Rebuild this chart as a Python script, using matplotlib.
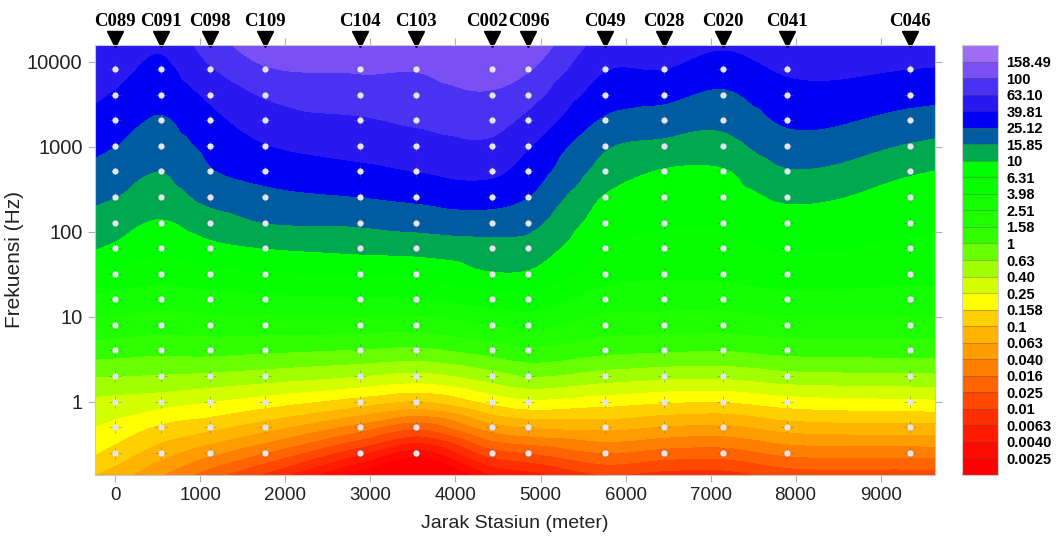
import numpy as np
import matplotlib.pyplot as plt
import matplotlib.tri as mtri
from matplotlib.transforms import blended_transform_factory, offset_copy

# --- DATA ---
stations = ['C089', 'C091', 'C098', 'C109', 'C104', 'C103', 'C002',
            'C096', 'C049', 'C028', 'C020', 'C041', 'C046']
jarak = [0, 539, 1112, 1756, 2880, 3536, 4426, 4848, 5761, 6452, 7143, 7904, 9344]
frekuensi = [8192, 4096, 2048, 1024, 512, 256, 128, 64, 32, 16, 8, 4, 2, 1, 0.5, 0.25]

# log10 of the value at each station, from 8192 Hz down to 0.25 Hz
C089 = [1.67, 1.58, 1.49, 1.40, 1.30, 1.20, 1.07, 0.96, 0.74, 0.53, 0.32, 0.08, -0.20, -0.47, -0.67, -0.88]
C091 = [1.55, 1.47, 1.38, 1.31, 1.20, 1.11, 0.98, 0.85, 0.68, 0.48, 0.28, 0.05, -0.22, -0.52, -0.84, -1.12]
C098 = [1.78, 1.64, 1.54, 1.45, 1.38, 1.26, 1.10, 0.94, 0.74, 0.52, 0.30, 0.06, -0.25, -0.60, -0.95, -1.35]
C109 = [1.98, 1.82, 1.70, 1.59, 1.47, 1.34, 1.20, 1.00, 0.78, 0.55, 0.30, 0.03, -0.30, -0.70, -1.12, -1.60]
C104 = [2.02, 1.92, 1.78, 1.68, 1.55, 1.40, 1.23, 1.05, 0.82, 0.58, 0.30, -0.02, -0.40, -0.90, -1.50, -2.15]
C103 = [2.01, 1.93, 1.83, 1.72, 1.60, 1.44, 1.27, 1.07, 0.84, 0.58, 0.28, -0.05, -0.47, -1.02, -1.75, -2.50]
C002 = [2.08, 1.98, 1.87, 1.76, 1.64, 1.48, 1.30, 1.12, 0.98, 0.70, 0.40, 0.08, -0.30, -0.75, -1.30, -1.90]
C096 = [2.02, 1.88, 1.75, 1.62, 1.51, 1.40, 1.26, 1.12, 0.97, 0.72, 0.45, 0.15, -0.20, -0.65, -1.20, -1.80]
C049 = [1.61, 1.50, 1.37, 1.22, 1.12, 0.98, 0.90, 0.80, 0.68, 0.50, 0.30, 0.05, -0.30, -0.72, -1.15, -1.60]
C028 = [1.60, 1.45, 1.31, 1.15, 0.98, 0.90, 0.82, 0.74, 0.63, 0.48, 0.28, 0.02, -0.35, -0.78, -1.22, -1.68]
C020 = [1.50, 1.37, 1.25, 1.13, 0.98, 0.90, 0.82, 0.74, 0.64, 0.48, 0.28, 0.00, -0.36, -0.80, -1.25, -1.70]
C041 = [1.63, 1.53, 1.43, 1.32, 1.18, 1.03, 0.92, 0.82, 0.70, 0.53, 0.32, 0.06, -0.28, -0.70, -1.12, -1.55]
C046 = [1.60, 1.47, 1.33, 1.18, 1.02, 0.92, 0.84, 0.76, 0.66, 0.52, 0.32, 0.08, -0.25, -0.65, -1.08, -1.52]
profiles = [C089, C091, C098, C109, C104, C103, C002, C096, C049, C028, C020, C041, C046]

# contour levels (log10) and the colour bar labels, low -> high
levels = [-2.6, -2.4, -2.2, -2.0, -1.8, -1.6, -1.4, -1.2, -1.0, -0.8, -0.6, -0.4,
          -0.2, 0.0, 0.2, 0.4, 0.6, 0.8, 1.0, 1.2, 1.4, 1.6, 1.8, 2.0, 2.2]
level_labels = ['0.0025', '0.0040', '0.0063', '0.01', '0.025', '0.016', '0.040',
                '0.063', '0.1', '0.158', '0.25', '0.40', '0.63', '1', '1.58', '2.51',
                '3.98', '6.31', '10', '15.85', '25.12', '39.81', '63.10', '100', '158.49']
band_colors = ['#ff0000', '#ff0a00', '#ff1a00', '#ff2e00', '#ff4800', '#ff6400',
               '#ff8000', '#ff9c00', '#ffb400', '#ffd000', '#ffff00', '#d4ff00',
               '#a0ff00', '#68ff00', '#30ff00', '#20ff00', '#14ff00', '#08ff00',
               '#00ff00', '#00a850', '#005ca0', '#0000f5', '#2a18f0', '#4a32f2',
               '#7a50f5', '#a06cf5']

# --- SURFACE ---
x = np.array(jarak, dtype=float)
lf = np.log10(frekuensi)
z = np.array(profiles)  # (station, freq)
nx, ny = z.shape
PX, PY = np.meshgrid(x, lf, indexing='ij')

# triangles cell by cell, coordinates scaled to about equal display units
tris = []
for i in range(nx - 1):
    for j in range(ny - 1):
        a = i * ny + j
        b = (i + 1) * ny + j
        tris.append([a, b, a + 1])
        tris.append([b, b + 1, a + 1])
SX, SY = 85 / 1000, 85
tri = mtri.Triangulation(PX.ravel() * SX, PY.ravel() * SY, np.array(tris))
interp = mtri.CubicTriInterpolator(tri, z.ravel(), kind='geom')

xlim = (-240, 9640)
ylim = (0.137, 15700)
gx = np.linspace(xlim[0], xlim[1], 500)
glf = np.linspace(np.log10(ylim[0]), np.log10(ylim[1]), 400)
GX, GLF = np.meshgrid(gx, glf)
eps = 1e-6
qx = np.clip(GX, x.min() + eps, x.max() - eps)
qy = np.clip(GLF, lf.min() + eps, lf.max() - eps)
GZ = interp(qx * SX, qy * SY)
# outside the station grid: carry on with the edge slope
dzx, dzy = interp.gradient(qx * SX, qy * SY)
GZ = GZ + dzx * (GX - qx) * SX + dzy * (GLF - qy) * SY

# --- PLOT ---
plt.rcParams['font.family'] = ['Liberation Sans', 'DejaVu Sans']
fig = plt.figure(figsize=(10.64, 5.41), dpi=100)
ax = fig.add_axes([95 / 1064, 66 / 541, 840 / 1064, 430 / 541])

lv = [-9] + levels + [9]
cs = ax.contourf(GX, 10 ** GLF, GZ, levels=lv, colors=band_colors)
ax.set_yscale('log')
ax.set_xlim(xlim)
ax.set_ylim(ylim)

# measurement points
for xi in jarak:
    ax.plot([xi] * len(frekuensi), frekuensi, '+', color='#606060', ms=8, mew=0.6, alpha=0.5)
    ax.plot([xi] * len(frekuensi), frekuensi, 'o', color='#e4e4f0', ms=4.5, mec='none')

# station markers
trans = blended_transform_factory(ax.transData, ax.transAxes)
ax.plot(jarak, [1.0128] * len(jarak), 'v', color='black', ms=11, transform=trans, clip_on=False)
label_dx = {'C002': -5, 'C096': 1}
for xi, name in zip(jarak, stations):
    tr = offset_copy(trans, fig=fig, x=label_dx.get(name, 0), units='dots')
    ax.text(xi, 1.035, name, transform=tr, ha='center', va='bottom',
            fontsize=13.5, fontweight='bold', family='Liberation Serif')

ax.set_xticks(range(0, 10000, 1000))
ax.set_yticks([1, 10, 100, 1000, 10000])
ax.set_yticklabels(['1', '10', '100', '1000', '10000'])
ax.minorticks_off()
ax.tick_params(direction='out', length=5, color='#b0b0b0',
               labelcolor='#222222', top=True, right=True)
ax.tick_params(axis='x', labelsize=13.5)
ax.tick_params(axis='y', labelsize=14.5, pad=4)
for s in ax.spines.values():
    s.set_color('#c8c8c8')
    s.set_linewidth(0.8)
ax.set_xlabel('Jarak Stasiun (meter)', fontsize=14, color='#222222', labelpad=8)
ax.set_ylabel('Frekuensi (Hz)', fontsize=15, color='#222222', labelpad=2)

# colour bar
cax = fig.add_axes([962 / 1064, 66 / 541, 36 / 1064, 430 / 541])
cb = fig.colorbar(cs, cax=cax, ticks=levels, drawedges=True)
cb.ax.set_yticklabels(level_labels)
cb.ax.tick_params(length=0, pad=6)
for t in cb.ax.get_yticklabels():
    t.set_fontsize(10.5)
    t.set_fontweight('bold')
cb.dividers.set_color('#555555')
cb.dividers.set_alpha(0.35)
cb.dividers.set_linewidth(0.8)
cb.outline.set_edgecolor('#cccccc')

plt.savefig('out.png', dpi=100)
